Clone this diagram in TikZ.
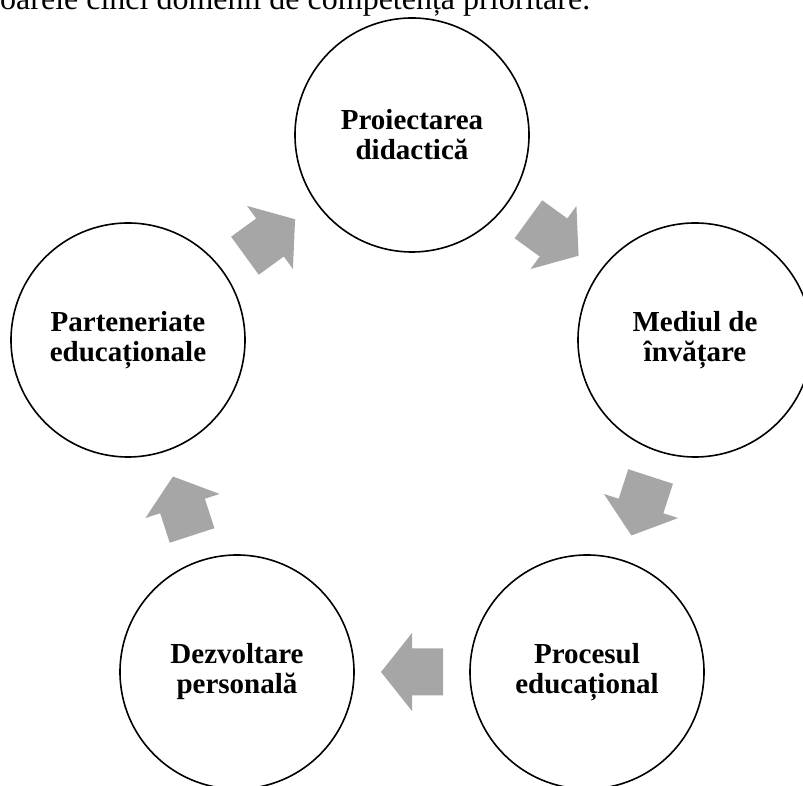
\documentclass[tikz,border=0pt]{standalone}
\usepackage{fontspec}
\setmainfont{Liberation Serif}
\usetikzlibrary{calc}
\definecolor{arrowgray}{HTML}{A6A6A6}
\tikzset{
  stage/.style={circle, draw=black, line width=1.6pt, minimum size=234pt,
    inner sep=0pt, outer sep=0pt, align=center,
    font=\fontsize{29}{30}\selectfont\bfseries},
  flowarrow/.style={fill=arrowgray, draw=none},
  blockarrow/.pic={\fill[flowarrow] (-31,-23.5) -- (0,-23.5) -- (0,-39) -- (31,0)
      -- (0,39) -- (0,23.5) -- (-31,23.5) -- cycle;}
}
\begin{document}
\begin{tikzpicture}[x=1pt,y=1pt]
\clip (0,0) rectangle (803,786);
\useasboundingbox (0,0) rectangle (803,786);
\node[anchor=base west, inner sep=0pt, font=\fontsize{32}{38}\selectfont] (intro) at (0,776)
  {oarele cinci domenii de competență prioritare.};
\node[stage] (c1) at (412,651) {Proiectarea\\didactică};
\node[stage] (c2) at (695,446) {Mediul de\\învățare};
\node[stage] (c3) at (587,114) {Procesul\\educațional};
\node[stage] (c4) at (237,114) {Dezvoltare\\personală};
\node[stage] (c5) at (128,446) {Parteneriate\\educaționale};
\pic[rotate=36]   at ($(c5.center)!0.5!(c1.center)$) {blockarrow};
\pic[rotate=-36]  at ($(c1.center)!0.5!(c2.center)$) {blockarrow};
\pic[rotate=-108] at ($(c2.center)!0.5!(c3.center)$) {blockarrow};
\pic[rotate=180]  at ($(c3.center)!0.5!(c4.center)$) {blockarrow};
\pic[rotate=108]  at ($(c4.center)!0.5!(c5.center)$) {blockarrow};
\end{tikzpicture}
\end{document}
